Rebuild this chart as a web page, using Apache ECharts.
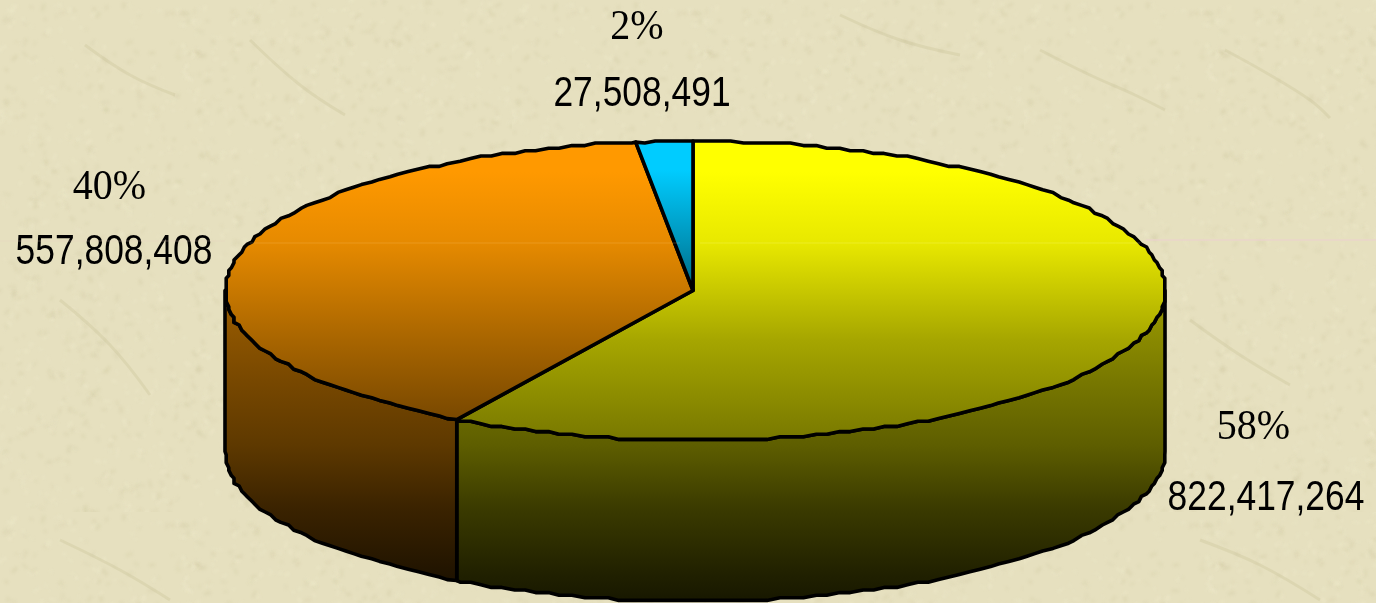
<!DOCTYPE html>
<html><head><meta charset="utf-8">
<style>html,body{margin:0;padding:0;background:#e6e0bf}#c{width:1376px;height:603px}</style>
<script src="https://cdn.jsdelivr.net/npm/echarts@6/dist/echarts.min.js"></script>
</head><body><div id="c"></div>
<script>
const sliceNames = ['Yellow', 'Orange', 'Blue'];
const sliceValues = [822417264, 557808408, 27508491];
const percentLabels = ['58%', '40%', '2%'];

const baseColors = [[255,255,0],[255,153,0],[0,204,255]];
const topShade = [
  [[141,1],[172,1],[243,.91],[340,.65],[440,.47]],
  [[141,1],[172,1],[243,.9],[340,.66],[425,.46]],
  [[141,1],[170,1],[243,.72],[292,.5]]
];
const wallShade = [[290,.62],[380,.47],[445,.37],[507,.23],[573,.13],[602,.09]];
const pctPos = [[1253.5,428],[109.5,188],[637,28]];
const valPos = [[1266,498],[114,252.5],[642,94]];
const CX=693, CY=290.5, RXL=468, RXR=472, RY=149.5, DEPTH=161;
const total = sliceValues.reduce((a,b)=>a+b,0);

function tile(){
  const size=512, c=document.createElement('canvas'); c.width=c.height=size;
  const g=c.getContext('2d');
  g.fillStyle='#e6e0bf'; g.fillRect(0,0,size,size);
  const h=(i,k)=>{const s=Math.sin(i*12.9898+k*78.233)*43758.5453;return s-Math.floor(s);};
  g.filter='blur(1.6px)';
  for(let i=0;i<2600;i++){
    const x=h(i,1)*size,y=h(i,2)*size,l=2+h(i,3)*6,a=h(i,6)*3.1;
    const dark=h(i,4)>0.55;
    g.strokeStyle=dark?'rgba(200,192,150,'+(0.10+h(i,5)*0.16)+')':'rgba(244,240,210,'+(0.12+h(i,5)*0.2)+')';
    g.lineWidth=2+h(i,7)*2;
    g.beginPath();g.moveTo(x,y);g.lineTo(x+Math.cos(a)*l,y+Math.sin(a)*l);g.stroke();
  }
  g.filter='none';
  return c;
}
const cracks=[[[1040,50],[1090,75],[1135,95],[1165,110]],[[1225,50],[1270,75],[1310,100],[1330,118]],[[85,45],[130,75],[175,95]],[[250,40],[300,85],[345,115]],[[1190,320],[1240,355],[1290,385]],[[60,300],[110,345],[150,395]],[[840,15],[900,40],[960,55]],[[60,540],[120,570],[170,600]],[[1200,540],[1260,565],[1320,600]]];

function snap(v,s){return Math.round(v/s)*s;}
function ell(deg,dy,rough){
  const r=deg*Math.PI/180, sn=Math.sin(r);
  let x=CX+(sn>=0?RXR:RXL)*sn, y=CY-RY*Math.cos(r);
  if(rough){
    x=Math.min(CX+RXR,Math.max(CX-RXL,snap(x,2.6)));
    y=Math.min(CY+RY,Math.max(CY-RY,snap(y,2.6)));
  }
  return [x,y+(dy||0)];
}
function grad(rgb,stops){
  const y0=stops[0][0], y1=stops[stops.length-1][0];
  const f=m=>'rgb('+rgb.map(v=>Math.round(v*m)).join(',')+')';
  return new echarts.graphic.LinearGradient(0,y0,0,y1,stops.map(s=>({offset:(s[0]-y0)/(y1-y0),color:f(s[1])})),true);
}
const STEP=1.5;
function arc(a0,a1,dy){
  const out=[];
  for(let a=(Math.floor(a0/STEP)+1)*STEP;a<a1-0.3;a+=STEP) out.push(ell(a,dy,true));
  return out;
}
function renderItem(params,api){
  const i=params.dataIndex;
  let before=0; for(let k=0;k<i;k++) before+=sliceValues[k];
  const a0=before/total*360, a1=(before+api.value(0))/total*360;
  const children=[];
  const stroke={stroke:'#000',lineWidth:3.6,lineJoin:'round'};
  const s0=Math.max(a0,90), s1=Math.min(a1,270);
  if(s1>s0){
    const pts=[ell(s0,0)].concat(arc(s0,s1,0),[ell(s1,0),ell(s1,DEPTH)],arc(s0,s1,DEPTH).reverse(),[ell(s0,DEPTH)]);
    children.push({type:'polygon',shape:{points:pts},style:Object.assign({fill:grad(baseColors[i],wallShade)},stroke)});
  }
  const top=[[CX,CY],ell(a0,0)].concat(arc(a0,a1,0),[ell(a1,0)]);
  children.push({type:'polygon',z2:5,shape:{points:top},style:Object.assign({fill:grad(baseColors[i],topShade[i])},stroke)});
  children.push({type:'text',z2:10,x:pctPos[i][0],y:pctPos[i][1],scaleY:1.05,style:{text:percentLabels[i],fill:'#000',font:'40px "Liberation Serif"',align:'center',verticalAlign:'middle'}});
  children.push({type:'text',z2:10,x:valPos[i][0],y:valPos[i][1],scaleY:1.18,style:{text:api.value(0).toLocaleString('en-US'),fill:'#000',font:'35.4px "Liberation Sans"',align:'center',verticalAlign:'middle'}});
  return {type:'group',children};
}
const chart=echarts.init(document.getElementById('c'),null,{renderer:'canvas'});
chart.setOption({
  animation:false,
  backgroundColor:{image:tile(),repeat:'repeat'},
  graphic:cracks.map(p=>({type:'polyline',z:-1,shape:{points:p,smooth:0.4},silent:true,style:{stroke:'rgba(200,192,150,0.32)',lineWidth:3,fill:null}})).concat([
    {type:'line',z:20,shape:{x1:0,y1:241,x2:225,y2:241},style:{stroke:'rgba(235,205,195,0.3)',lineWidth:1}},
    {type:'line',z:20,shape:{x1:250,y1:243,x2:680,y2:243},style:{stroke:'rgba(255,215,130,0.22)',lineWidth:1}},
    {type:'line',z:20,shape:{x1:700,y1:243,x2:1140,y2:243},style:{stroke:'rgba(255,255,170,0.22)',lineWidth:1}},
    {type:'line',z:20,shape:{x1:1146,y1:240,x2:1376,y2:240},style:{stroke:'rgba(235,210,205,0.6)',lineWidth:2}}
  ]),
  series:[{type:'custom',coordinateSystem:'none',renderItem,silent:true,
    data:sliceValues.map((v,i)=>({name:sliceNames[i],value:[v]}))}]
});
</script></body></html>
